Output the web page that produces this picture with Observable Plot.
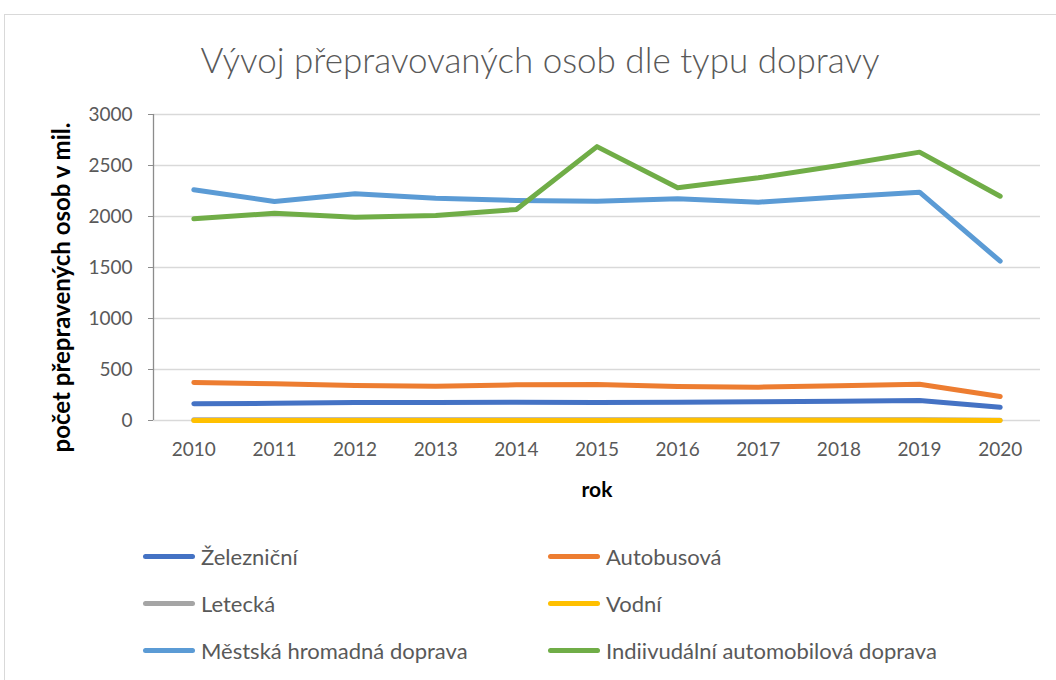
<!DOCTYPE html>
<html>
<head>
<meta charset="utf-8">
<script src="https://cdn.jsdelivr.net/npm/d3@7"></script>
<script src="https://cdn.jsdelivr.net/npm/@observablehq/plot@0.6"></script>
<style>
  html, body { margin: 0; padding: 0; background: #fff; }
  body { width: 1056px; height: 680px; position: relative; overflow: hidden; font-family: Lato, "Open Sans", sans-serif; }
  #frame { position: absolute; left: 4px; top: 14px; width: 1200px; height: 800px; border: 1.5px solid #d9d9d9; }
  #title { position: absolute; left: 0; width: 1080px; top: 38px; text-align: center; font-size: 35px; font-weight: 300; color: #595959; }
  #chart { position: absolute; left: 0; top: 90px; }
  .leg { position: absolute; display: flex; align-items: center; font-size: 22px; color: #595959; }
  .sw { width: 52px; height: 5px; border-radius: 3px; margin-right: 6px; }
</style>
</head>
<body>
<div id="frame"></div>
<div id="title">Vývoj přepravovaných osob dle typu dopravy</div>
<div id="chart"></div>
<div id="legend"></div>
<script>
const years = [2010, 2011, 2012, 2013, 2014, 2015, 2016, 2017, 2018, 2019, 2020];
const seriesNames = ["Železniční", "Autobusová", "Letecká", "Vodní", "Městská hromadná doprava", "Indiivudální automobilová doprava"];
const seriesColors = ["#4472C4", "#ED7D31", "#A5A5A5", "#FFC000", "#5B9BD5", "#70AD47"];
const zeleznicni = [164, 168, 176, 176, 180, 176, 180, 183, 189, 196, 130];
const autobusova = [373, 360, 343, 336, 350, 353, 333, 327, 340, 356, 235];
const letecka = [7, 7, 7, 7, 7, 7, 7, 8, 8, 8, 2];
const vodni = [1.2, 1.1, 1.0, 1.0, 1.1, 1.2, 1.3, 1.3, 1.3, 1.4, 0.6];
const mestska = [2262, 2147, 2222, 2180, 2157, 2150, 2173, 2140, 2190, 2238, 1562];
const individualni = [1977, 2032, 1993, 2010, 2069, 2685, 2281, 2379, 2500, 2631, 2199];
const yTicks = [0, 500, 1000, 1500, 2000, 2500, 3000];
const yLabel = "počet přepravených osob v mil.";
const xLabel = "rok";

const allSeries = [zeleznicni, autobusova, letecka, vodni, mestska, individualni];
const data = [];
allSeries.forEach((vals, i) => vals.forEach((v, j) => data.push({serie: seriesNames[i], year: years[j], value: v})));
const drawOrder = ["Letecká", "Vodní", "Železniční", "Autobusová", "Městská hromadná doprava", "Indiivudální automobilová doprava"];

const marks = [
  Plot.ruleY(yTicks, {stroke: "#d9d9d9", strokeWidth: 1.5}),
  Plot.ruleX([2009.5], {stroke: "#8c8c8c", strokeWidth: 1.3}),
  Plot.axisY({ticks: yTicks, tickFormat: "d", tickSize: 5, tickPadding: 16, fontSize: 19, color: "#595959", stroke: "#8c8c8c", label: null}),
  Plot.axisX({ticks: years, tickFormat: "d", tickSize: 0, tickPadding: 22, fontSize: 19, color: "#595959", label: null}),
];
for (const name of drawOrder) {
  marks.push(Plot.line(data.filter(d => d.serie === name), {x: "year", y: "value", stroke: seriesColors[seriesNames.indexOf(name)], strokeWidth: 5, strokeLinecap: "round", strokeLinejoin: "round"}));
}
marks.push(Plot.text([yLabel], {frameAnchor: "left", dx: -91, dy: 20, rotate: -90, text: d => d, fontSize: 24, fontWeight: "bold", fill: "#000", textAnchor: "middle", lineAnchor: "middle"}));
marks.push(Plot.text([xLabel], {frameAnchor: "bottom", dy: 70, text: d => d, fontSize: 21, fontWeight: "bold", fill: "#000", textAnchor: "middle", lineAnchor: "middle"}));

const plot = Plot.plot({
  width: 1056,
  height: 420,
  marginLeft: 153,
  marginRight: 16,
  marginTop: 24,
  marginBottom: 90,
  style: {fontFamily: "Lato, 'Open Sans', sans-serif", background: "transparent", overflow: "visible"},
  x: {type: "linear", domain: [2009.5, 2020.5]},
  y: {domain: [0, 3000]},
  marks
});
document.getElementById("chart").appendChild(plot);

const legend = document.getElementById("legend");
const legPos = [[143, 558], [548, 558], [143, 605], [548, 605], [143, 652], [548, 652]];
seriesNames.forEach((name, i) => {
  const el = document.createElement("div");
  el.className = "leg";
  el.style.left = legPos[i][0] + "px";
  el.style.top = (legPos[i][1] - 15) + "px";
  el.innerHTML = `<div class="sw" style="background:${seriesColors[i]}"></div><span>${name}</span>`;
  legend.appendChild(el);
});
</script>
</body>
</html>
